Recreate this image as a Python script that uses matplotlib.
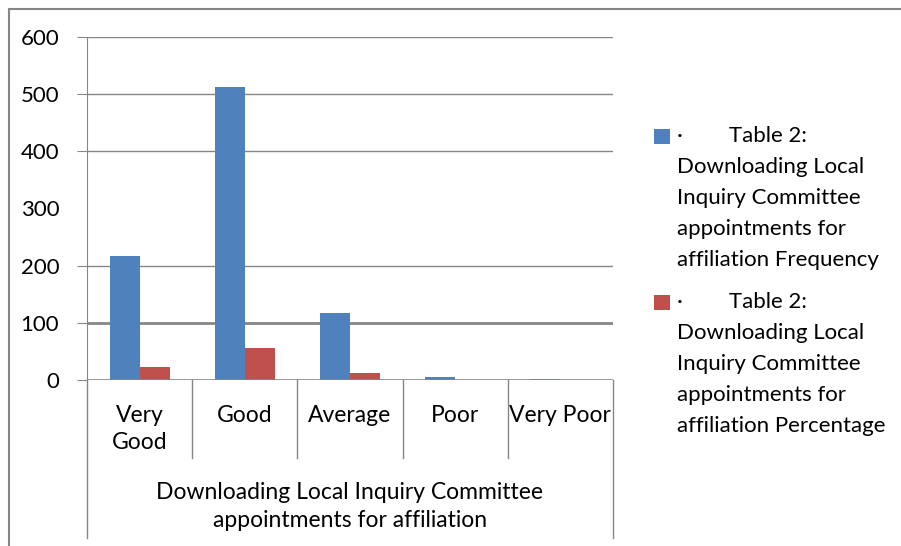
import matplotlib
matplotlib.use("Agg")
import matplotlib.pyplot as plt
from matplotlib.patches import Rectangle
from matplotlib.lines import Line2D

# data
categories = ["Very\nGood", "Good", "Average", "Poor", "Very Poor"]
frequency = [217, 512, 117, 5, 2]
percentage = [23.3, 56.6, 12.6, 0.6, 0.3]
y_ticks = [0, 100, 200, 300, 400, 500, 600]
grid_values = [100, 200, 400, 500, 600]   # the 300 line is missing in the reference
legend_labels = [
    ["·        Table 2:", "Downloading Local", "Inquiry Committee",
     "appointments for", "affiliation Frequency"],
    ["·        Table 2:", "Downloading Local", "Inquiry Committee",
     "appointments for", "affiliation Percentage"],
]
axis_title = "Downloading Local Inquiry Committee\nappointments for affiliation"

blue = "#4F81BD"
red = "#C0504D"
grey = "#868686"

plt.rcParams["font.family"] = ["Lato", "DejaVu Sans"]

W, H = 901, 546
fig = plt.figure(figsize=(W / 100, H / 100), dpi=100)
ax = fig.add_axes([87 / W, (H - 380) / H, (613 - 87) / W, 343 / H])

x = list(range(len(categories)))
bw = 0.285
ax.bar([i - bw / 2 for i in x], frequency, width=bw, color=blue, zorder=3)
ax.bar([i + bw / 2 for i in x], percentage, width=bw, color=red, zorder=3)

ax.set_xlim(-0.5, len(categories) - 0.5)
ax.set_ylim(0, 600)
for v in grid_values:
    ax.axhline(v, color=grey, lw=2.0 if v == 100 else 1.0, zorder=1)

for s in ["top", "right", "bottom"]:
    ax.spines[s].set_visible(False)
ax.spines["left"].set_color(grey)
ax.axhline(0, color=grey, lw=1.2, zorder=4)

ax.set_yticks(y_ticks)
ax.set_yticklabels([str(v) for v in y_ticks], fontsize=16)
ax.tick_params(axis="y", length=7, color=grey, pad=13)
for t, v in zip(ax.yaxis.get_major_ticks(), y_ticks):
    if v not in grid_values and v != 0:
        t.tick1line.set_visible(False)
ax.set_xticks(x)
ax.set_xticklabels(categories, fontsize=16.5, linespacing=1.35)
ax.tick_params(axis="x", length=0, pad=18)

# category separators under the axis
tr = ax.get_xaxis_transform()
for k in range(len(categories) + 1):
    b = k - 0.5
    bottom = -0.461 if k in (0, len(categories)) else -0.227
    ax.add_line(Line2D([b, b], [0, bottom], transform=tr, color=grey, lw=1, clip_on=False))
ax.spines["left"].set_bounds(0, 600)

ax.text(0.5, -0.297, axis_title, transform=ax.transAxes, ha="center", va="top",
        fontsize=16.5, linespacing=1.4)

# outer chart frame (left and top edges)
fig.add_artist(Line2D([9 / W, 9 / W], [0, 1 - 9 / H], color=grey, lw=1.5))
fig.add_artist(Line2D([9 / W, 1], [1 - 9 / H, 1 - 9 / H], color=grey, lw=1.5))

# legend
for colour, lines, top in [(blue, legend_labels[0], 136), (red, legend_labels[1], 302)]:
    fig.add_artist(Rectangle((654 / W, 1 - (top + 8) / H), 16 / W, 15 / H,
                             facecolor=colour, edgecolor="none"))
    for j, line in enumerate(lines):
        fig.text(677 / W, 1 - (top + 31 * j) / H, line, ha="left", va="center",
                 fontsize=16)

fig.savefig("out.png", dpi=100)
